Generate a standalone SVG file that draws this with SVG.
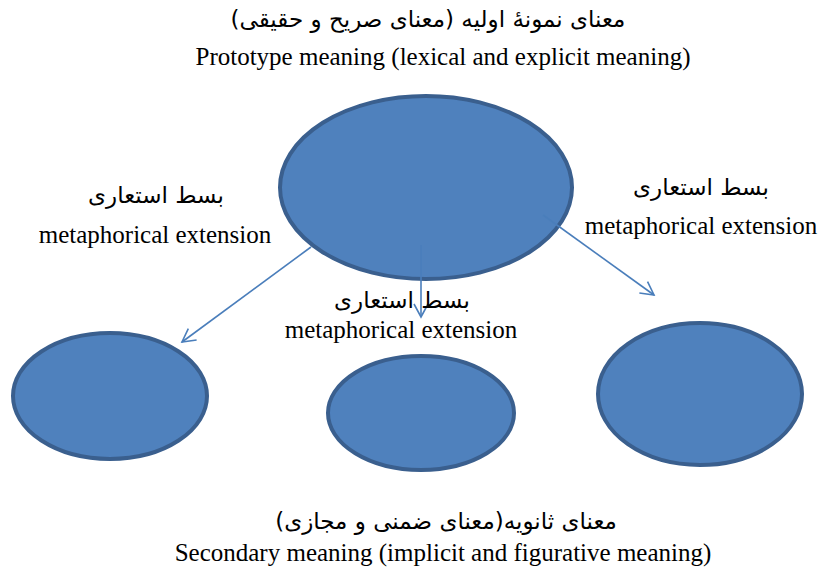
<svg xmlns="http://www.w3.org/2000/svg" width="818" height="573" viewBox="0 0 818 573">
<defs>
<style>
.node{fill:#4F81BD;stroke:#3A5F8E;stroke-width:4}
.en{font-family:"Liberation Serif","Times New Roman",serif;font-size:25px;fill:#000;text-anchor:middle}
.fa{font-family:"DejaVu Sans","Noto Sans",sans-serif;font-size:23px;fill:#000;text-anchor:middle}
.con{stroke:#4A7EBB;stroke-width:1.6;fill:none}
</style>
<marker id="arr" viewBox="0 0 16 16" refX="14" refY="8" markerWidth="16" markerHeight="16" markerUnits="userSpaceOnUse" orient="auto">
<path d="M1,1 L14,8 L1,15" fill="none" stroke="#4A7EBB" stroke-width="1.6"/>
</marker>
</defs>
<rect width="818" height="573" fill="#fff"/>
<g id="title">
<text class="fa" x="428" y="27" direction="rtl" unicode-bidi="embed">معنای نمونۀ اولیه (معنای صریح و حقیقی)</text>
<text class="en" x="443" y="65">Prototype meaning (lexical and explicit meaning)</text>
</g>
<g id="prototype"><ellipse class="node" cx="426" cy="187.5" rx="146" ry="91.5"/></g>
<g id="secondary-left"><ellipse class="node" cx="110" cy="396" rx="97" ry="63"/></g>
<g id="secondary-middle"><ellipse class="node" cx="421" cy="413" rx="93" ry="57"/></g>
<g id="secondary-right"><ellipse class="node" cx="700" cy="394" rx="102" ry="71"/></g>
<g id="connectors">
<line class="con" x1="311" y1="247" x2="182" y2="342" marker-end="url(#arr)"/>
<line class="con" x1="421" y1="245" x2="421" y2="317" marker-end="url(#arr)"/>
<line class="con" x1="543" y1="215" x2="654" y2="295" marker-end="url(#arr)"/>
</g>
<g id="label-left">
<text class="fa" x="156" y="203" direction="rtl" unicode-bidi="embed">بسط استعاری</text>
<text class="en" x="155" y="243">metaphorical extension</text>
</g>
<g id="label-middle">
<text class="fa" x="402" y="308" direction="rtl" unicode-bidi="embed">بسط استعاری</text>
<text class="en" x="401" y="338">metaphorical extension</text>
</g>
<g id="label-right">
<text class="fa" x="701" y="195" direction="rtl" unicode-bidi="embed">بسط استعاری</text>
<text class="en" x="701" y="234">metaphorical extension</text>
</g>
<g id="caption">
<text class="fa" x="446" y="529" direction="rtl" unicode-bidi="embed">معنای ثانویه(معنای ضمنی و مجازی)</text>
<text class="en" x="443" y="561">Secondary meaning (implicit and figurative meaning)</text>
</g>
</svg>
